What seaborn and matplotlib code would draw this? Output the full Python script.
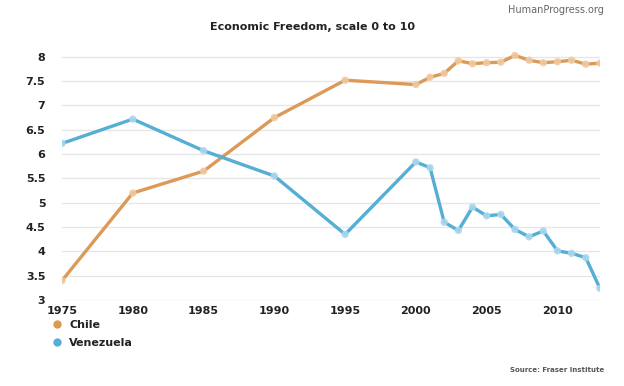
import matplotlib
matplotlib.use("Agg")
import matplotlib.pyplot as plt
import seaborn as sns
import pandas as pd
from matplotlib.lines import Line2D

years_chile = [1975, 1980, 1985, 1990, 1995, 2000, 2001, 2002, 2003, 2004, 2005,
               2006, 2007, 2008, 2009, 2010, 2011, 2012, 2013]
chile = [3.40, 5.20, 5.65, 6.75, 7.52, 7.43, 7.58, 7.66, 7.92, 7.86, 7.88,
         7.89, 8.03, 7.93, 7.88, 7.90, 7.93, 7.85, 7.87]
years_ven = years_chile
venezuela = [6.22, 6.72, 6.07, 5.55, 4.35, 5.84, 5.72, 4.60, 4.43, 4.91, 4.73,
             4.76, 4.45, 4.30, 4.42, 4.01, 3.96, 3.87, 3.24]
countries = ["Chile", "Venezuela"]
xticks = [1975, 1980, 1985, 1990, 1995, 2000, 2005, 2010]
yticks = [3, 3.5, 4, 4.5, 5, 5.5, 6, 6.5, 7, 7.5, 8]

df = pd.DataFrame({
    "year": years_chile + years_ven,
    "value": chile + venezuela,
    "country": ["Chile"] * len(chile) + ["Venezuela"] * len(venezuela),
})

colors = {"Chile": "#DC9A58", "Venezuela": "#55AED3"}
light = {"Chile": "#F0C9A0", "Venezuela": "#A9D8EC"}

sns.set_style("white")
fig = plt.figure(figsize=(6.24, 3.86), dpi=100)
ax = fig.add_axes([0.0994, 0.2228, 0.862, 0.6425])

sns.lineplot(data=df, x="year", y="value", hue="country", palette=colors,
             linewidth=2.4, ax=ax, legend=False)
# pale point markers
for c in countries:
    sub = df[df.country == c]
    sns.scatterplot(x=sub.year, y=sub.value, s=28, color=light[c],
                    edgecolor="none", alpha=0.9, zorder=4, ax=ax, legend=False)

ax.set_xlim(1975, 2013)
ax.set_ylim(3, 8.1)
ax.set_xticks(xticks)
ax.set_yticks(yticks)
ax.set_yticklabels(["3", "3.5", "4", "4.5", "5", "5.5", "6", "6.5", "7", "7.5", "8"])
ax.set_xlabel("")
ax.set_ylabel("")
ax.grid(axis="y", color="#E6E6E6", linewidth=1)
for s in ax.spines.values():
    s.set_visible(False)
ax.tick_params(axis="both", length=0, labelsize=8, colors="#222222", pad=4)
for lab in ax.get_xticklabels() + ax.get_yticklabels():
    lab.set_fontweight("bold")
ax.tick_params(axis="y", pad=12)

fig.text(0.5, 0.930, "Economic Freedom, scale 0 to 10", ha="center", va="center",
         fontsize=8, fontweight="bold", color="#222222")
fig.text(0.968, 0.974, "HumanProgress.org", ha="right", va="center",
         fontsize=7, color="#666666")
fig.text(0.968, 0.041, "Source: Fraser Institute", ha="right", va="center",
         fontsize=5, fontweight="bold", color="#555555")

handles = [Line2D([0], [0], marker="o", linestyle="none", markersize=6,
                  markerfacecolor=colors[c], markeredgewidth=0) for c in countries]
leg = fig.legend(handles, countries, loc="upper left", bbox_to_anchor=(0.075, 0.183),
                 frameon=False, fontsize=8, handletextpad=0.6, labelspacing=0.75,
                 handlelength=1.0, borderaxespad=0)
for t in leg.get_texts():
    t.set_fontweight("bold")
    t.set_color("#222222")

fig.savefig("out.png", dpi=100)
